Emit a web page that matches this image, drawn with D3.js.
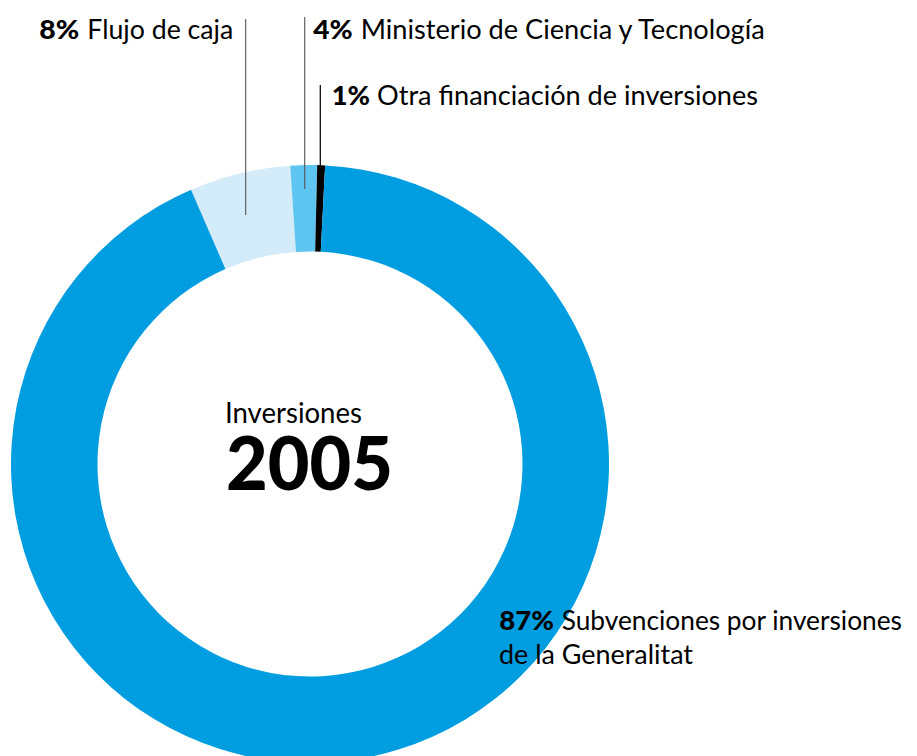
<!DOCTYPE html>
<html><head><meta charset="utf-8">
<script src="https://cdn.jsdelivr.net/npm/d3@7"></script>
<style>html,body{margin:0;padding:0;background:#fff;}svg{display:block;}</style>
</head><body>
<script>
// Data (drawing order clockwise, starting at the light segment)
const categories = ["Flujo de caja", "Ministerio de Ciencia y Tecnología", "Otra financiación de inversiones", "Subvenciones por inversiones de la Generalitat"];
const labelPercent = [8, 4, 1, 87];
// arc shares as drawn in the picture (degrees of the ring, in %)
const arcShare = [5.46, 1.44, 0.42, 92.68];
const colors = ["#d4ebf9", "#5ec5f0", "#000000", "#009ee0"];
const centerTitle = "Inversiones";
const centerYear = "2005";

const W = 917, H = 756;
const svg = d3.select("body").append("svg").attr("width", W).attr("height", H);
const cx = 310, cy = 464, R = 299, r = 212.5;
const startDeg = -23.45;

const pie = d3.pie().sort(null).value(d => d)
  .startAngle(startDeg * Math.PI / 180)
  .endAngle(startDeg * Math.PI / 180 + 2 * Math.PI);
const arc = d3.arc().innerRadius(r).outerRadius(R);
const g = svg.append("g").attr("transform", `translate(${cx},${cy})`);
g.selectAll("path").data(pie(arcShare)).join("path")
  .attr("d", arc).attr("fill", (d, i) => colors[i]);

// leader lines
const leaders = [
  {x: 245.7, y1: 19, y2: 215, c: "#555", w: 1.1},
  {x: 304.7, y1: 17, y2: 189, c: "#555", w: 1.1},
  {x: 320.3, y1: 85, y2: 168, c: "#111", w: 1.3}
];
svg.selectAll("line.leader").data(leaders).join("line")
  .attr("x1", d => d.x).attr("x2", d => d.x)
  .attr("y1", d => d.y1).attr("y2", d => d.y2)
  .attr("stroke", d => d.c).attr("stroke-width", d => d.w);

const font = "Lato, 'Open Sans', sans-serif";
function label(x, y, bold, boldW, regX, reg, regW) {
  svg.append("text").attr("x", x).attr("y", y)
    .attr("font-family", font).attr("font-size", 26).attr("font-weight", 900)
    .attr("fill", "#000").attr("textLength", boldW).attr("lengthAdjust", "spacingAndGlyphs")
    .text(bold);
  svg.append("text").attr("x", regX).attr("y", y)
    .attr("font-family", font).attr("font-size", 26).attr("font-weight", 400)
    .attr("fill", "#000").attr("textLength", regW).attr("lengthAdjust", "spacingAndGlyphs")
    .text(reg);
}
label(39.3, 39, labelPercent[0] + "%", 40, 87.3, categories[0], 146);
label(313.3, 39, labelPercent[1] + "%", 39.4, 360.7, categories[1], 404);
label(331.7, 105, labelPercent[2] + "%", 38.3, 377, categories[2], 381);
label(499.3, 630, labelPercent[3] + "%", 54.7, 561.7, "Subvenciones por inversiones", 340.3);
svg.append("text").attr("x", 499).attr("y", 664)
  .attr("font-family", font).attr("font-size", 26).attr("font-weight", 400)
  .attr("textLength", 194).attr("lengthAdjust", "spacingAndGlyphs")
  .text("de la Generalitat");

svg.append("text").attr("x", 225).attr("y", 423)
  .attr("font-family", font).attr("font-size", 28).attr("font-weight", 400)
  .attr("textLength", 137).attr("lengthAdjust", "spacingAndGlyphs")
  .text(centerTitle);
svg.append("text").attr("x", 226).attr("y", 490)
  .attr("font-family", font).attr("font-size", 74).attr("font-weight", 900)
  .attr("textLength", 167).attr("lengthAdjust", "spacingAndGlyphs")
  .text(centerYear);
</script>
</body></html>
